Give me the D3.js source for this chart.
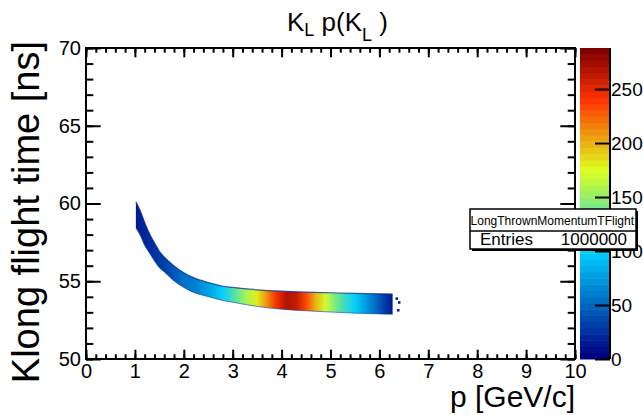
<!DOCTYPE html>
<html><head><meta charset="utf-8">
<script src="https://cdn.jsdelivr.net/npm/d3@7"></script>
<style>
html,body{margin:0;padding:0;background:#fff;}
svg text{font-family:"Liberation Sans",Arial,Helvetica,sans-serif;}
</style></head>
<body>
<svg id="c" width="643" height="415"></svg>
<script>
// ---- data ----
// band edges: momentum p [GeV/c] -> flight time edges [ns]
const bandP   = [1.02, 1.1, 1.2, 1.3, 1.4, 1.5, 1.6, 1.8, 2.0, 2.2, 2.5, 2.8, 3.0, 3.5, 4.0, 4.5, 5.0, 5.5, 6.0, 6.27];
const bandTop = [60.12,59.6,58.78,58.05,57.47,56.93,56.56,55.99,55.55,55.23,54.92,54.68,54.6,54.45,54.36,54.30,54.26,54.22,54.19,54.18];
const bandBot = [58.42,58.0,57.3,56.8,56.3,55.87,55.6,55.02,54.6,54.28,54.01,53.76,53.65,53.38,53.2,53.1,53.02,52.95,52.9,52.88];
// typical bin content along the band
const countP  = [1.02, 1.2, 1.4, 1.6, 1.8, 2.0, 2.2, 2.5, 2.8, 3.0, 3.3, 3.5, 3.7, 3.9, 4.1, 4.3, 4.5, 4.7, 4.9, 5.1, 5.3, 5.5, 5.7, 5.9, 6.1, 6.27];
const counts  = [14,   20,  26,  34,  42,  52,  62,  80,  102, 122, 158, 183, 213, 243, 265, 262, 235, 200, 168, 140, 118, 100, 78,  55,  32,  14];
// isolated entries beyond the band end
const strayP = [6.35, 6.40, 6.38];
const strayT = [53.9, 53.65, 53.15];

const xTicks = [0,1,2,3,4,5,6,7,8,9,10];
const yTicks = [50,55,60,65,70];
const zTicks = [0,50,100,150,200,250];
const zMax = 288;
const histName = "KLongThrownMomentumTFlight";
const entries = "1000000";

// ---- layout ----
const svg = d3.select("#c");
const L = 86, R = 575, T = 48, B = 359;
const x = d3.scaleLinear().domain([0,10]).range([L,R]);
const y = d3.scaleLinear().domain([50,70]).range([B,T]);
const LBL = 20;

// ROOT "pretty palette" (50 colours)
const stops=[0,0.34,0.61,0.84,1], sr=[0,0,0.87,1,0.51], sg=[0,0.81,1,0.2,0], sb=[0.51,1,0.12,0,0];
const interpR=d3.scaleLinear().domain(stops).range(sr), interpG=d3.scaleLinear().domain(stops).range(sg), interpB=d3.scaleLinear().domain(stops).range(sb);
const NCOL=50;
const pal = d3.range(NCOL).map(i=>{const f=i/(NCOL-1);return d3.rgb(interpR(f)*255,interpG(f)*255,interpB(f)*255).formatHex();});
const zColor = v => pal[Math.max(0,Math.min(NCOL-1,Math.floor(v/zMax*NCOL)))];

// ---- band ----
const defs = svg.append("defs");
const x0=x(countP[0]), x1=x(countP[countP.length-1]);
const grad = defs.append("linearGradient").attr("id","g").attr("gradientUnits","userSpaceOnUse")
  .attr("x1",x0).attr("x2",x1).attr("y1",0).attr("y2",0);
countP.forEach((p,i)=>grad.append("stop").attr("offset",(x(p)-x0)/(x1-x0)).attr("stop-color",zColor(counts[i])));

const bandData = bandP.map((p,i)=>({p,top:bandTop[i],bot:bandBot[i]}));
const area = d3.area().x(d=>x(d.p)).y0(d=>y(d.bot)).y1(d=>y(d.top)).curve(d3.curveMonotoneX);
svg.append("path").datum(bandData).attr("d",area).attr("fill","url(#g)");
const topLine = d3.line().x(d=>x(d.p)).y(d=>y(d.top)).curve(d3.curveMonotoneX);
const botLine = d3.line().x(d=>x(d.p)).y(d=>y(d.bot)).curve(d3.curveMonotoneX);
svg.append("path").datum(bandData).attr("d",topLine).attr("fill","none").attr("stroke",pal[3]).attr("stroke-width",1.2).attr("opacity",0.75);
svg.append("path").datum(bandData).attr("d",botLine).attr("fill","none").attr("stroke",pal[6]).attr("stroke-width",1).attr("opacity",0.6);
svg.selectAll("rect.stray").data(strayP).enter().append("rect").attr("class","stray")
  .attr("x",(d)=>x(d)-1).attr("y",(d,i)=>y(strayT[i])-1).attr("width",2.5).attr("height",2.5).attr("fill",pal[2]);

// ---- axes ----
function styleAxis(g){g.select(".domain").remove();g.selectAll("line").attr("stroke","#000").attr("stroke-width",2);
  g.selectAll("text").attr("font-size",LBL).attr("fill","#000");}
const xMinor = d3.range(0,10.001,0.2);
const yMinor = d3.range(50,70.001,1);
// bottom
svg.append("g").attr("transform",`translate(0,${B})`).call(d3.axisBottom(x).tickValues(xMinor).tickSize(-4.7).tickFormat("")).call(styleAxis);
svg.append("g").attr("transform",`translate(0,${B})`).call(d3.axisBottom(x).tickValues(xTicks).tickSize(-9.3).tickFormat(d3.format("d"))).call(styleAxis)
  .selectAll("text").attr("dy",null).attr("y",19);
// top
svg.append("g").attr("transform",`translate(0,${T})`).call(d3.axisTop(x).tickValues(xMinor).tickSize(-4.7).tickFormat("")).call(styleAxis);
svg.append("g").attr("transform",`translate(0,${T})`).call(d3.axisTop(x).tickValues(xTicks).tickSize(-9.3).tickFormat("")).call(styleAxis);
// left
svg.append("g").attr("transform",`translate(${L},0)`).call(d3.axisLeft(y).tickValues(yMinor).tickSize(-7.3).tickFormat("")).call(styleAxis);
svg.append("g").attr("transform",`translate(${L},0)`).call(d3.axisLeft(y).tickValues(yTicks).tickSize(-14.7).tickFormat(d3.format("d"))).call(styleAxis)
  .selectAll("text").attr("x",-5);
// right
svg.append("g").attr("transform",`translate(${R},0)`).call(d3.axisRight(y).tickValues(yMinor).tickSize(-7.3).tickFormat("")).call(styleAxis);
svg.append("g").attr("transform",`translate(${R},0)`).call(d3.axisRight(y).tickValues(yTicks).tickSize(-14.7).tickFormat("")).call(styleAxis);
// frame
svg.append("rect").attr("x",L).attr("y",T).attr("width",R-L).attr("height",B-T).attr("fill","none").attr("stroke","#000").attr("stroke-width",2);

// ---- palette ----
const PL=580, PR=610;
const z = d3.scaleLinear().domain([0,zMax]).range([B,T]);
svg.selectAll("rect.pal").data(pal).enter().append("rect").attr("class","pal")
  .attr("x",PL).attr("width",PR-PL)
  .attr("y",(d,i)=>z((i+1)*zMax/NCOL)).attr("height",(d,i)=>z(i*zMax/NCOL)-z((i+1)*zMax/NCOL)+0.5)
  .attr("fill",d=>d);
const zg = svg.append("g").attr("transform",`translate(${PR},0)`).call(d3.axisRight(z).tickValues(zTicks).tickSize(-15).tickFormat(d3.format("d")));
zg.select(".domain").attr("stroke","#000").attr("stroke-width",2).attr("d",`M0,${B}V${T}`);
zg.selectAll("line").attr("stroke","#000").attr("stroke-width",2);
zg.selectAll("text").attr("font-size",19).attr("fill","#000").attr("x",1);

// ---- titles ----
const title = svg.append("text").attr("x",287).attr("y",31).attr("font-size",26).attr("fill","#000");
title.append("tspan").text("K");
title.append("tspan").attr("font-size",18).attr("dy",5).text("L");
title.append("tspan").attr("dy",-5).text(" p(K");
title.append("tspan").attr("font-size",18).attr("dy",10).text("L");
title.append("tspan").attr("dy",-10).text(" )");

svg.append("text").attr("x",R).attr("y",407).attr("text-anchor","end").attr("font-size",30).attr("fill","#000").text("p [GeV/c]");
svg.append("text").attr("transform","translate(39,41) rotate(-90)").attr("text-anchor","end").attr("font-size",38).attr("fill","#000").text("Klong flight time [ns]");

// ---- stats box ----
const SX0=470, SX1=636, SY0=209, SYM=231, SY1=249;
svg.append("rect").attr("x",SX0+2).attr("y",SY0+2).attr("width",SX1-SX0).attr("height",SY1-SY0).attr("fill","#000");
svg.append("rect").attr("x",SX0).attr("y",SY0).attr("width",SX1-SX0).attr("height",SY1-SY0).attr("fill","#fff").attr("stroke","#000").attr("stroke-width",1.5);
svg.append("line").attr("x1",SX0).attr("x2",SX1).attr("y1",SYM).attr("y2",SYM).attr("stroke","#000").attr("stroke-width",1.5);
defs.append("clipPath").attr("id","sc").append("rect").attr("x",SX0+1).attr("y",SY0).attr("width",SX1-SX0-2).attr("height",SYM-SY0);
svg.append("text").attr("clip-path","url(#sc)").attr("x",SX1-2).attr("y",SYM-6).attr("text-anchor","end").attr("font-size",12).attr("fill","#000").text(histName);
svg.append("text").attr("x",SX0+10).attr("y",SY1-4).attr("font-size",17).attr("fill","#000").text("Entries");
svg.append("text").attr("x",SX1-9).attr("y",SY1-4).attr("text-anchor","end").attr("font-size",17).attr("fill","#000").text(entries);
</script>
</body></html>
